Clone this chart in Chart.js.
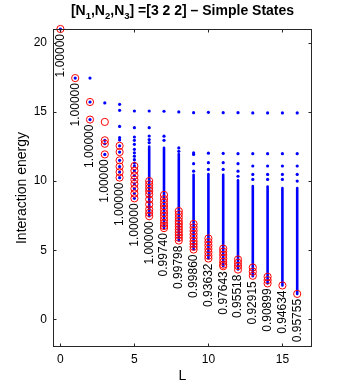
<!DOCTYPE html>
<html>
<head>
<meta charset="utf-8">
<script src="https://cdn.jsdelivr.net/npm/chart.js@4.4.1/dist/chart.umd.min.js"></script>
<style>
html, body { margin: 0; padding: 0; background: #fff; }
#wrap { width: 352px; height: 392px; }
</style>
</head>
<body>
<div id="wrap"><canvas id="myChart" width="352" height="392"></canvas></div>
<script>
'use strict';

// L values (x axis)
const levels = [0, 1, 2, 3, 4, 5, 6, 7, 8, 9, 10, 11, 12, 13, 14, 15, 16];

// isolated blue levels for each L
const blueLevels = [
    [21],
    [17.45],
    [17.45, 15.72, 14.45],
    [15.65, 12.95, 12.7, 11.93],
    [15.55, 15.12, 13.95, 13.15, 12.98, 12.55, 12.1, 11.5, 11.05, 10.65, 10.25],
    [15.07, 13.86, 13.19, 12.95, 12.66, 12.3, 12.05, 11.8, 11.55, 11.3, 11.09, 10.75, 10.4, 10.1, 9.8, 9.45, 9.1, 8.75],
    [15.07, 13.86, 13.26, 13.0, 12.78],
    [15.05, 13.25, 12.95],
    [15.0, 12.4, 12.15],
    [14.95, 12.05, 11.93, 11.26, 10.72],
    [14.97, 12.02, 11.33, 10.84],
    [14.95, 12.0, 11.33, 10.84],
    [14.95, 11.98, 11.26, 10.72, 10.35],
    [14.93, 11.98, 11.09, 10.48, 10.12],
    [14.93, 11.98, 11.09, 10.48, 10.12],
    [14.93, 11.98, 11.09, 10.48, 10.12],
    [14.93, 11.98, 11.09, 10.48, 10.0]
];

// dense part of the spectrum (bottom / top), null = none
const bandLow  = [null, null, null, null, null, null, 7.46, 6.6, 5.7, 5.05, 4.4, 3.84, 3.6, 3.12, 2.6, 2.45, 1.84];
const bandHigh = [null, null, null, null, null, null, 12.5, 12.4, 11.95, 10.45, 10.5, 10.45, 10.05, 9.65, 9.6, 9.5, 9.5];

// simple states (red circles)
const simpleStates = [
    [21],
    [17.45],
    [15.72, 14.45],
    [14.28, 12.95, 12.7, 11.93],
    [12.55, 12.1, 11.5, 11.05, 10.65, 10.25],
    [11.09, 10.75, 10.4, 10.1, 9.8, 9.45, 9.1, 8.75],
    [10.0, 9.76, 9.51, 9.28, 9.04, 8.67, 8.31, 7.95, 7.7, 7.46],
    [9.0, 8.7, 8.45, 8.2, 7.95, 7.7, 7.45, 7.2, 6.95, 6.75, 6.6],
    [7.83, 7.6, 7.35, 7.1, 6.9, 6.7, 6.5, 6.3, 6.1, 5.9, 5.7],
    [6.9, 6.65, 6.4, 6.15, 5.9, 5.65, 5.45, 5.25, 5.05],
    [5.85, 5.6, 5.35, 5.1, 4.85, 4.6, 4.4],
    [5.12, 4.9, 4.65, 4.4, 4.15, 3.95, 3.84],
    [4.33, 4.1, 3.85, 3.6],
    [3.75, 3.45, 3.15],
    [3.08, 2.84, 2.6],
    [2.45],
    [1.84]
];

// overlap numbers written under each column
const overlapLabels = ['1.00000', '1.00000', '1.00000', '1.00000', '1.00000', '1.00000', '1.00000',
    '0.99740', '0.99798', '0.99860', '0.93632', '0.97643', '0.95518', '0.92915', '0.90899', '0.94634', '0.95755'];

const xTicks = [0, 5, 10, 15];
const yTicks = [0, 5, 10, 15, 20];

const FONT = '"Liberation Sans", Arial, Helvetica, sans-serif';

// データセット作成
var datasets = [];
datasets.push({
    data: simpleStates.flatMap((list, i) => list.map(e => ({ x: levels[i], y: e }))),
    pointStyle: 'circle',
    pointRadius: 3.6,
    pointBorderWidth: 1,
    pointBackgroundColor: 'rgba(0,0,0,0)',
    pointBorderColor: '#ff0000',
    clip: false,
    order: 0
});
datasets.push({
    data: blueLevels.flatMap((list, i) => list.map(e => ({ x: levels[i], y: e }))),
    pointRadius: 1.6,
    pointBorderWidth: 0,
    pointBackgroundColor: '#0000ff',
    clip: false,
    order: 1
});
for (var i = 0; i < levels.length; i++) {
    if (bandLow[i] === null) continue;
    datasets.push({
        data: [{ x: levels[i], y: bandLow[i] }, { x: levels[i], y: bandHigh[i] }],
        showLine: true,
        borderColor: '#0000ff',
        borderWidth: 2.6,
        borderCapStyle: 'round',
        pointRadius: 0,
        clip: false,
        order: 2
    });
}

// タイトル（添字付き）
const titlePlugin = {
    id: 'titlePlugin',
    afterDraw(chart) {
        const { ctx, chartArea: a } = chart;
        const parts = [['[N', 0], ['1', 1], [',N', 0], ['2', 1], [',N', 0], ['3', 1], ['] =[3 2 2] \u2013 Simple States', 0]];
        const big = 'bold 14px ' + FONT, small = 'bold 9.5px ' + FONT;
        ctx.save();
        var w = 0;
        parts.forEach(p => { ctx.font = p[1] ? small : big; w += ctx.measureText(p[0]).width; });
        var x = (a.left + a.right) / 2 - w / 2;
        ctx.fillStyle = '#000';
        ctx.textBaseline = 'alphabetic';
        ctx.textAlign = 'left';
        parts.forEach(p => {
            ctx.font = p[1] ? small : big;
            ctx.fillText(p[0], x, p[1] ? 18.5 : 14.5);
            x += ctx.measureText(p[0]).width;
        });
        ctx.restore();
    }
};

// 枠と内向きの目盛り
const boxPlugin = {
    id: 'boxPlugin',
    afterDraw(chart) {
        const { ctx, chartArea: a, scales: { x, y } } = chart;
        const l = Math.round(a.left) + 0.5, r = Math.round(a.right) - 0.5;
        const t = Math.round(a.top) + 0.5, b = Math.round(a.bottom) - 0.5;
        ctx.save();
        ctx.strokeStyle = '#262626';
        ctx.lineWidth = 1;
        ctx.strokeRect(l, t, r - l, b - t);
        ctx.beginPath();
        xTicks.forEach(v => {
            const px = Math.round(x.getPixelForValue(v)) + 0.5;
            ctx.moveTo(px, b); ctx.lineTo(px, b - 3);
            ctx.moveTo(px, t); ctx.lineTo(px, t + 3);
        });
        yTicks.forEach(v => {
            const py = Math.round(y.getPixelForValue(v)) + 0.5;
            ctx.moveTo(l, py); ctx.lineTo(l + 3, py);
            ctx.moveTo(r, py); ctx.lineTo(r - 3, py);
        });
        ctx.stroke();
        ctx.restore();
    }
};

// 各列の下に重なり値
const labelPlugin = {
    id: 'labelPlugin',
    afterDatasetsDraw(chart) {
        const { ctx, scales: { x, y } } = chart;
        ctx.save();
        ctx.font = '12px ' + FONT;
        ctx.fillStyle = '#000';
        ctx.textAlign = 'right';
        ctx.textBaseline = 'middle';
        for (var i = 0; i < levels.length; i++) {
            var low = Math.min.apply(null, blueLevels[i].concat(simpleStates[i]));
            if (bandLow[i] !== null) low = Math.min(low, bandLow[i]);
            const px = x.getPixelForValue(levels[i]);
            const py = y.getPixelForValue(low) + 5;
            ctx.save();
            ctx.translate(px, py);
            ctx.rotate(-Math.PI / 2);
            ctx.fillText(overlapLabels[i], 0, 0);
            ctx.restore();
        }
        ctx.restore();
    }
};

const config = {
    type: 'scatter',
    data: { datasets: datasets },
    options: {
        responsive: false,
        animation: false,
        layout: { padding: { top: 29, right: 40, left: 0, bottom: 0 } },
        plugins: {
            legend: { display: false },
            tooltip: { enabled: false }
        },
        scales: {
            x: {
                type: 'linear',
                min: -0.5,
                max: 17,
                afterBuildTicks: s => { s.ticks = xTicks.map(v => ({ value: v })); },
                afterFit: s => { s.height = 45; },
                grid: { display: false, drawTicks: false },
                border: { display: false },
                ticks: { padding: 5, color: '#000', font: { family: FONT, size: 12 } },
                title: { display: true, text: 'L', color: '#000', padding: { top: 0, bottom: 7 }, font: { family: FONT, size: 14 } }
            },
            y: {
                type: 'linear',
                min: -2,
                max: 21,
                afterBuildTicks: s => { s.ticks = yTicks.map(v => ({ value: v })); },
                afterFit: s => { s.width = 53; },
                grid: { display: false, drawTicks: false },
                border: { display: false },
                ticks: { padding: 6, color: '#000', font: { family: FONT, size: 12 } },
                title: { display: true, text: 'Interaction energy', color: '#000', padding: { top: 14, bottom: 0 }, font: { family: FONT, size: 14 } }
            }
        }
    },
    plugins: [titlePlugin, boxPlugin, labelPlugin]
};

const myChart = new Chart(document.getElementById('myChart'), config);
</script>
</body>
</html>
